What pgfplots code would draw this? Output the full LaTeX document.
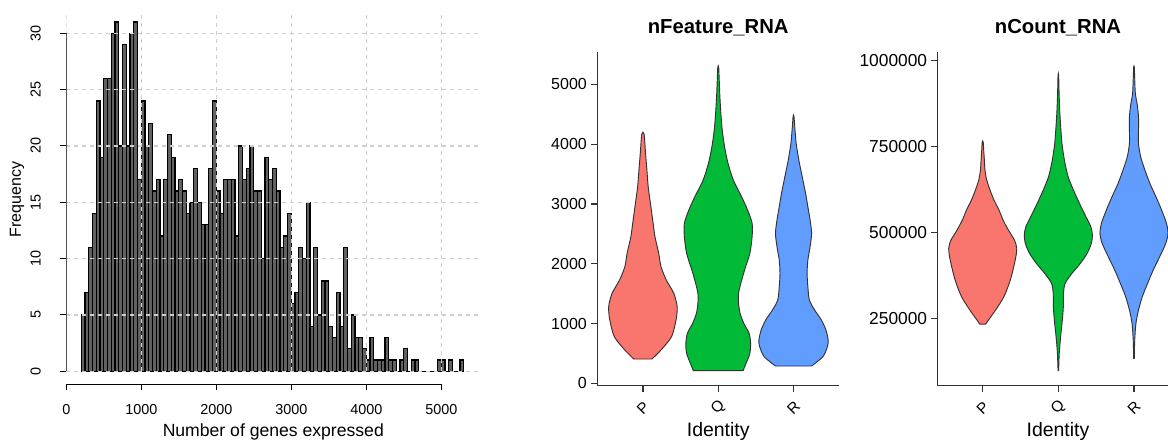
\documentclass[border=0pt]{standalone}
\usepackage{fontspec}
\setmainfont{Liberation Sans}
\usepackage{pgfplots}
\usepackage{pgfplotstable}
\pgfplotsset{compat=1.18}
\definecolor{vP}{HTML}{F8766D}
\definecolor{vQ}{HTML}{00BA38}
\definecolor{vR}{HTML}{619CFF}
\definecolor{vline}{HTML}{333333}
\definecolor{gridc}{HTML}{CFCFCF}

% violin outlines: y and signed half width (right side up, left side down)
\pgfplotstableread{
y w
407 0.12
557 0.24
780 0.38
1059 0.44
1282 0.455
1505 0.41
1728 0.31
1951 0.24
2174 0.21
2453 0.16
2731 0.13
3010 0.10
3289 0.07
3567 0.053
3846 0.035
4170 0.015
4170 -0.015
3846 -0.035
3567 -0.053
3289 -0.07
3010 -0.10
2731 -0.13
2453 -0.16
2174 -0.21
1951 -0.24
1728 -0.31
1505 -0.41
1282 -0.455
1059 -0.44
780 -0.38
557 -0.24
407 -0.12
}\featP
\pgfplotstableread{
y w
212 0.33
335 0.37
502 0.42
669 0.43
836 0.41
1003 0.34
1171 0.29
1338 0.27
1505 0.27
1672 0.30
1895 0.35
2174 0.42
2453 0.45
2676 0.45
2899 0.39
3122 0.31
3400 0.20
3679 0.13
3958 0.084
4236 0.053
4515 0.035
4794 0.022
5072 0.013
5290 0.006
5290 -0.006
5072 -0.013
4794 -0.022
4515 -0.035
4236 -0.053
3958 -0.084
3679 -0.13
3400 -0.20
3122 -0.31
2899 -0.39
2676 -0.45
2453 -0.45
2174 -0.42
1895 -0.35
1672 -0.30
1505 -0.27
1338 -0.27
1171 -0.29
1003 -0.34
836 -0.41
669 -0.43
502 -0.42
335 -0.37
212 -0.33
}\featQ
\pgfplotstableread{
y w
290 0.24
446 0.39
613 0.45
725 0.46
892 0.43
1059 0.37
1226 0.28
1394 0.21
1617 0.19
1840 0.18
2062 0.19
2285 0.22
2508 0.24
2731 0.22
2954 0.19
3177 0.16
3456 0.115
3735 0.07
4013 0.035
4292 0.016
4470 0.005
4470 -0.005
4292 -0.016
4013 -0.035
3735 -0.07
3456 -0.115
3177 -0.16
2954 -0.19
2731 -0.22
2508 -0.24
2285 -0.22
2062 -0.19
1840 -0.18
1617 -0.19
1394 -0.21
1226 -0.28
1059 -0.37
892 -0.43
725 -0.46
613 -0.45
446 -0.39
290 -0.24
}\featR
\pgfplotstableread{
y w
233600 0.04
240400 0.06
274400 0.17
313200 0.28
361700 0.365
419900 0.43
454000 0.45
478000 0.42
507000 0.34
536000 0.27
565000 0.216
594000 0.15
623500 0.097
652600 0.053
681700 0.03
710700 0.022
739800 0.013
764000 0.006
764000 -0.006
739800 -0.013
710700 -0.022
681700 -0.03
652600 -0.053
623500 -0.097
594000 -0.15
565000 -0.216
536000 -0.27
507000 -0.34
478000 -0.42
454000 -0.45
419900 -0.43
361700 -0.365
313200 -0.28
274400 -0.17
240400 -0.06
233600 -0.04
}\countP
\pgfplotstableread{
y w
97800 0.004
148200 0.012
196700 0.03
245200 0.053
284000 0.066
322900 0.068
352000 0.09
381000 0.18
410000 0.29
439000 0.38
468000 0.436
492700 0.45
517000 0.43
546000 0.365
584600 0.28
623500 0.20
662000 0.13
710700 0.08
759300 0.048
807800 0.031
856300 0.018
904800 0.01
958000 0.004
958000 -0.004
904800 -0.01
856300 -0.018
807800 -0.031
759300 -0.048
710700 -0.08
662000 -0.13
623500 -0.20
584600 -0.28
546000 -0.365
517000 -0.43
492700 -0.45
468000 -0.436
439000 -0.38
410000 -0.29
381000 -0.18
352000 -0.09
322900 -0.068
284000 -0.066
245200 -0.053
196700 -0.03
148200 -0.012
97800 -0.004
}\countQ
\pgfplotstableread{
y w
133700 0.004
187000 0.01
235600 0.026
274400 0.06
313000 0.11
352000 0.18
391000 0.255
429600 0.34
468000 0.42
497600 0.45
526800 0.43
565600 0.365
604400 0.29
643000 0.21
681700 0.145
720600 0.088
759300 0.06
798000 0.06
837000 0.06
871000 0.044
905000 0.018
953000 0.009
982000 0.004
982000 -0.004
953000 -0.009
905000 -0.018
871000 -0.044
837000 -0.06
798000 -0.06
759300 -0.06
720600 -0.088
681700 -0.145
643000 -0.21
604400 -0.29
565600 -0.365
526800 -0.43
497600 -0.45
468000 -0.42
429600 -0.34
391000 -0.255
352000 -0.18
313000 -0.11
274400 -0.06
235600 -0.026
187000 -0.01
133700 -0.004
}\countR

% #1 table, #2 centre, #3 colour
\newcommand{\violin}[3]{%
  \addplot[fill=#3, draw=vline, line width=0.7pt, smooth, tension=0.45]
    table[x expr=#2+\thisrow{w}, y=y] {#1} -- cycle;
}

\pgfplotsset{
  vln/.style={
    scale only axis, anchor=south west,
    xmin=0.4,
    axis x line*=bottom, axis y line*=left,
    axis line style={vline, line width=0.9pt},
    tick style={vline, line width=0.9pt},
    tick align=outside, major tick length=5pt,
    xtick={1,2,3}, xticklabels={P,Q,R},
    xticklabel style={rotate=45, anchor=center, inner sep=0pt, font=\fontsize{11.5}{12}\selectfont},
    xticklabel shift=11.5pt,
    yticklabel style={anchor=east, inner sep=0pt},
    scaled y ticks=false,
    /pgf/number format/1000 sep={},
    /pgf/number format/assume math mode=true,
    xlabel={Identity},
    xlabel style={at={(axis description cs:0.5,-0.1506)}, anchor=base, font=\fontsize{14.6}{16}\selectfont},
  },
}

\begin{document}
\begin{tikzpicture}
\useasboundingbox (0pt,0pt) rectangle (876pt,-330pt);

% histogram
\begin{axis}[
  at={(49.73pt,-288pt)}, anchor=south west, scale only axis,
  width=310.5pt, height=276.6pt,
  xmin=0, xmax=5520, ymin=-1.13, ymax=31.6,
  axis line style={draw=none},
  tick pos=left, tick align=outside, major tick length=4.5pt,
  tick style={black, line width=0.75pt},
  xtick={0,1000,...,5000}, ytick={0,5,...,30},
  /pgf/number format/1000 sep={},
  /pgf/number format/assume math mode=true,
  ticklabel style={font=\fontsize{10.8}{12}\selectfont},
  xticklabel style={anchor=north, inner sep=0pt},
  xticklabel shift=10.7pt,
  yticklabel style={rotate=90, anchor=south, inner sep=0pt},
  yticklabel shift=14.5pt,
  xlabel={Number of genes expressed},
  xlabel style={at={(axis description cs:0.5,-0.141)}, anchor=base, font=\fontsize{13.2}{15}\selectfont},
  ylabel={Frequency},
  ylabel style={at={(axis description cs:-0.119,0.5)}, anchor=center, font=\fontsize{12}{14}\selectfont},
]
\addplot[ybar interval, fill=black!62, draw=black, line width=1pt] coordinates {
(200,5)(250,7)(300,11)(350,14)(400,24)(450,19)(500,26)(550,26)(600,30)(650,31)
(700,20)(750,29)(800,20)(850,30)(900,31)(950,17)(1000,24)(1050,20)(1100,22)(1150,16)
(1200,17)(1250,12)(1300,17)(1350,21)(1400,19)(1450,16)(1500,17)(1550,16)(1600,14)(1650,15)
(1700,18)(1750,15)(1800,13)(1850,13)(1900,18)(1950,24)(2000,16)(2050,14)(2100,17)(2150,17)
(2200,17)(2250,12)(2300,20)(2350,17)(2400,18)(2450,20)(2500,16)(2550,16)(2600,10)(2650,19)
(2700,17)(2750,18)(2800,16)(2850,11)(2900,12)(2950,14)(3000,6)(3050,7)(3100,11)(3150,10)
(3200,15)(3250,4)(3300,11)(3350,5)(3400,8)(3450,8)(3500,4)(3550,3)(3600,7)(3650,4)
(3700,11)(3750,2)(3800,5)(3850,3)(3900,3)(3950,2)(4000,1)(4050,3)(4100,1)(4150,1)
(4200,1)(4250,3)(4300,1)(4350,1)(4400,0)(4450,1)(4500,2)(4550,0)(4600,1)(4650,1)
(4700,0)(4750,0)(4800,0)(4850,0)(4900,0)(4950,1)(5000,1)(5050,0)(5100,1)(5150,0)
(5200,0)(5250,1)(5300,0)
};
\pgfplotsinvokeforeach{0,5,...,30}{
  \draw[gridc, line width=1pt, dash pattern=on 3pt off 3pt] (axis cs:0,#1) -- (axis cs:5520,#1);
}
\pgfplotsinvokeforeach{0,1000,...,5000}{
  \draw[gridc, line width=1pt, dash pattern=on 3pt off 3pt] (axis cs:#1,0) -- (axis cs:#1,31.6);
}
\draw[black, line width=0.75pt] (axis cs:0,0) -- (axis cs:0,30);
\draw[black, line width=0.75pt] (axis cs:0,-1.13) -- (axis cs:5000,-1.13);
\end{axis}

% nFeature_RNA
\begin{axis}[vln,
  at={(448.3pt,-289.3pt)}, width=180.75pt, height=250.5pt,
  xmax=3.6, ymin=-40, ymax=5545,
  ytick={0,1000,...,5000},
  yticklabel style={font=\fontsize{12}{13}\selectfont},
  yticklabel shift=3pt,
  title={nFeature\_RNA},
  title style={at={(axis description cs:0.5,1.032)}, anchor=base, font=\bfseries\fontsize{15.2}{17}\selectfont},
]
\violin{\featP}{1}{vP}
\violin{\featQ}{2}{vQ}
\violin{\featR}{3}{vR}
\end{axis}

% nCount_RNA (cut at the right edge of the picture)
\begin{axis}[vln,
  at={(703pt,-289.3pt)}, width=173pt, height=250.5pt,
  xmax=3.45, ymin=54100, ymax=1026200,
  ytick={250000,500000,750000,1000000},
  yticklabels={250000,500000,750000,1000000},
  yticklabel style={font=\fontsize{13}{14}\selectfont},
  yticklabel shift=2.5pt,
  title={nCount\_RNA},
  title style={at={(axis description cs:0.523,1.032)}, anchor=base, font=\bfseries\fontsize{15.2}{17}\selectfont},
  xlabel style={at={(axis description cs:0.523,-0.1506)}},
]
\violin{\countP}{1}{vP}
\violin{\countQ}{2}{vQ}
\violin{\countR}{3}{vR}
\end{axis}
\end{tikzpicture}
\end{document}
